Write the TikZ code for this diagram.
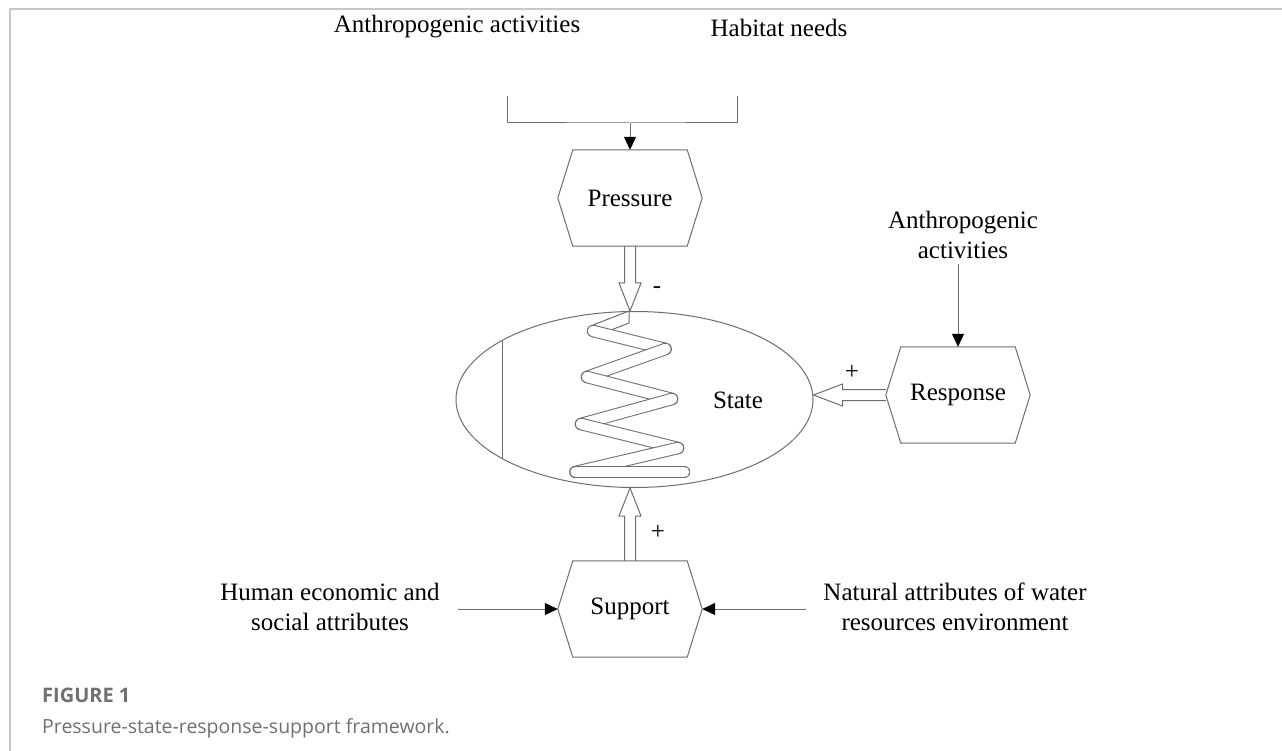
\documentclass[tikz,border=0pt]{standalone}
\usepackage{fontspec}
\setmainfont{Liberation Serif}
\newfontfamily\capfont{Open Sans}
\usetikzlibrary{arrows.meta,calc,shapes.geometric}
\definecolor{ln}{RGB}{110,110,110}
\definecolor{framec}{RGB}{200,200,200}
\definecolor{capc}{RGB}{112,112,112}
\newcommand\hexpath[1]{\draw[conn] (#1.north west) -- (#1.north east) -- ($(#1.east)+(15,0)$) -- (#1.south east) -- (#1.south west) -- ($(#1.west)+(-15,0)$) -- cycle;}
\begin{document}
\begin{tikzpicture}[x=1pt,y=-1pt,
  lbl/.style={font=\fontsize{25}{30}\selectfont, align=center, inner sep=0pt},
  hexbox/.style={minimum width=114pt, minimum height=96pt, inner sep=0pt, font=\fontsize{25}{30}\selectfont},
  conn/.style={draw=ln, line width=1pt},
  tip/.style={-{Triangle[length=13pt,width=12pt,color=black]}},
  hollow/.style={draw=ln, line width=1pt, fill=white, line join=miter},
  band/.style={draw=ln, double=white, double distance=10.5pt, line width=1pt, line cap=round},
  capstyle/.style={anchor=west, inner sep=0pt, text=capc}
]
\useasboundingbox (0,0) rectangle (1282,751);
\fill[white] (0,0) rectangle (1282,751);
\draw[framec, line width=2pt] (9.5,751) -- (9.5,9.5) -- (1282,9.5);

% ellipse (state)
\node[ellipse, draw=ln, line width=1pt, minimum width=357pt, minimum height=176pt, inner sep=0pt] (E) at (634.5,399.5) {};
\draw[conn] ($(E.center)+(-132.5,-59)$) -- ($(E.center)+(-132.5,59)$);
\node[lbl] (S) at (738,400) {State};

% spring
\coordinate (s1) at (593,331);
\coordinate (s2) at (665.5,349);
\coordinate (s3) at (587,377);
\coordinate (s4) at (672,399);
\coordinate (s5) at (581,424);
\coordinate (s6) at (678,448);
\coordinate (s7) at (575.5,472);
\coordinate (s8) at (684,472);
\draw[conn, fill=white] (629,311) -- (593,325) -- (593,337) -- (629,323) -- cycle;
\draw[band] (s1) -- (s2);
\draw[band] (s2) -- (s3);
\draw[band] (s3) -- (s4);
\draw[band] (s4) -- (s5);
\draw[band] (s5) -- (s6);
\draw[band] (s6) -- (s7);
\draw[band] (s7) -- (s8);

% hexagon nodes
\node[hexbox] (P) at (630,198) {Pressure};
\node[hexbox] (R) at (958,395) {Response};
\node[hexbox] (U) at (630,609) {Support};

% hollow arrows
\coordinate (pt) at (P.south |- E.north);
\draw[hollow] ($(P.south)+(-5.5,0)$) -- ($(pt)+(-5.5,-28)$) -- ($(pt)+(-11,-28)$) -- (pt) -- ($(pt)+(11,-28)$) -- ($(pt)+(5.5,-28)$) -- ($(P.south)+(5.5,0)$);
\coordinate (ut) at (U.north |- E.south);
\draw[hollow] ($(U.north)+(-5.5,0)$) -- ($(ut)+(-5.5,28)$) -- ($(ut)+(-11,28)$) -- (ut) -- ($(ut)+(11,28)$) -- ($(ut)+(5.5,28)$) -- ($(U.north)+(5.5,0)$);
\coordinate (rt) at (E.east |- R.west);
\coordinate (rb) at ($(R.west)+(-15,0)$);
\draw[hollow] ($(rb)+(0,-5.5)$) -- ($(rt)+(29,-5.5)$) -- ($(rt)+(29,-11)$) -- (rt) -- ($(rt)+(29,11)$) -- ($(rt)+(29,5.5)$) -- ($(rb)+(0,5.5)$);

\hexpath{P}
\hexpath{R}
\hexpath{U}

% signs
\node[lbl] (m1) at (657,290) {-};
\node[lbl] (p1) at (852,372) {+};
\node[lbl] (p2) at (658,532) {+};

% top
\node[lbl] (A1) at (457,27) {Anthropogenic activities};
\node[lbl] (H) at (779,28) {Habitat needs};
\coordinate (bl) at (507,96);
\coordinate (br) at (737,96);
\coordinate (bm) at (630,123);
\draw[conn] (bl) |- (bm) -| (br);
\draw[conn,tip] (bm) -- (P.north);

% right input
\node[lbl] (A2) at (963,235) {Anthropogenic\\activities};
\draw[conn,tip] ($(R.north |- A2.south)+(0,5)$) -- (R.north);

% bottom inputs
\node[lbl] (HE) at (330,607) {Human economic and\\social attributes};
\node[lbl] (NA) at (955,607) {Natural attributes of water\\resources environment};
\coordinate (hs) at (458,609);
\coordinate (ns) at (806,609);
\draw[conn,tip] (hs) -- ($(U.west)+(-15,0)$);
\draw[conn,tip] (ns) -- ($(U.east)+(15,0)$);

% caption
\node[capstyle, font=\capfont\bfseries\fontsize{20}{24}\selectfont] (fig) at (42,695) {FIGURE 1};
\node[capstyle, font=\capfont\fontsize{19.5}{24}\selectfont] (cap) at (42,728) {Pressure-state-response-support framework.};
\end{tikzpicture}
\end{document}
